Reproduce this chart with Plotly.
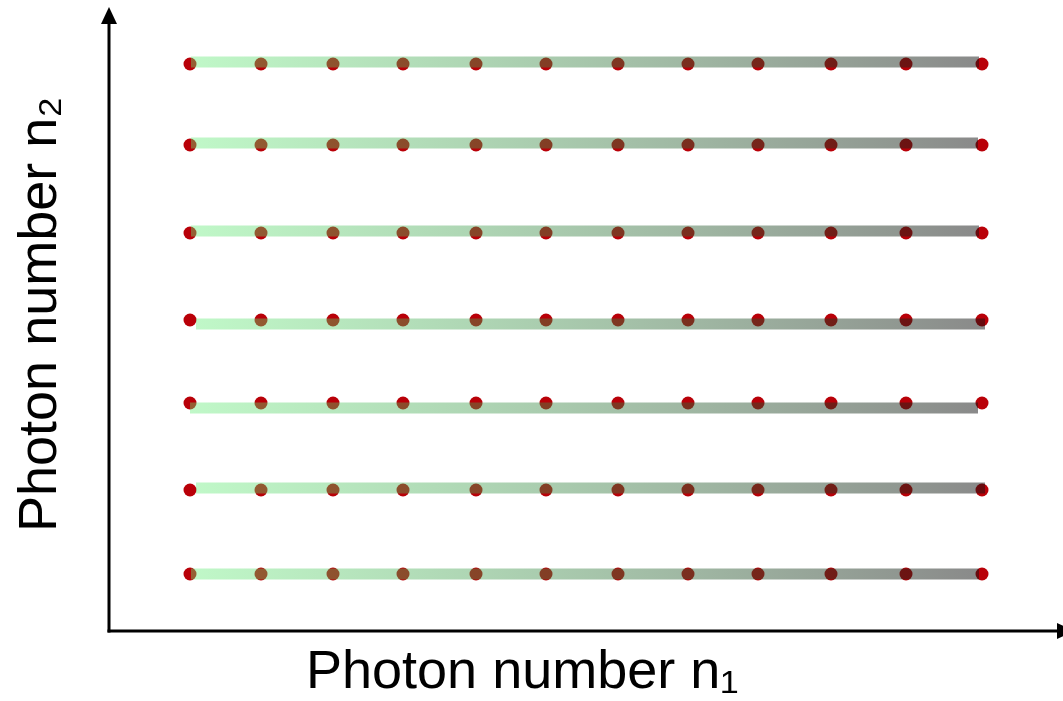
import plotly.graph_objects as go

# ---- data (pixel-like units) ----
n1_positions = [190, 261, 333, 403, 476, 546, 618, 688, 758, 831, 906, 982]
n2_rows = [64, 145, 233, 320, 403, 490, 574]          # dot rows
bar_center = [62, 143, 231, 324, 408, 488, 574]      # bar centre per row
bar_start = [191, 191, 191, 196, 190, 196, 191]
bar_end = [979, 978, 979, 985, 978, 985, 979]

x_label = "Photon number n\u2081"
y_label = "Photon number n\u2082"

W, H = 1063, 701
BAR_HALF = 5.5
DOT_COLOR = "#b90008"
GRAD = [[0, "rgba(97,237,117,0.40)"], [1, "rgba(20,20,20,0.50)"]]

fig = go.Figure()

# dots (drawn first, bars overlay them semi-transparently)
for yr in n2_rows:
    fig.add_trace(go.Scatter(
        x=n1_positions, y=[yr] * len(n1_positions), mode="markers",
        marker=dict(size=13, color=DOT_COLOR, line=dict(width=0)),
        showlegend=False, hoverinfo="skip"))

# gradient bars
for yc, x0, x1 in zip(bar_center, bar_start, bar_end):
    fig.add_trace(go.Scatter(
        x=[x0, x1, x1, x0, x0],
        y=[yc - BAR_HALF, yc - BAR_HALF, yc + BAR_HALF, yc + BAR_HALF, yc - BAR_HALF],
        mode="none", fill="toself",
        fillgradient=dict(type="horizontal", colorscale=GRAD),
        showlegend=False, hoverinfo="skip"))

# axes arrows
AX_X, AX_Y = 109, 631
fig.add_shape(type="line", x0=AX_X, x1=AX_X, y0=AX_Y + 1.5, y1=20,
              line=dict(color="black", width=3))
fig.add_shape(type="path", path=f"M {AX_X-8},{24} L {AX_X},{7} L {AX_X+8},{24} Z",
              fillcolor="black", line=dict(color="black", width=0))
fig.add_shape(type="line", x0=AX_X - 1.5, x1=1060, y0=AX_Y, y1=AX_Y,
              line=dict(color="black", width=3))
fig.add_shape(type="path", path=f"M {1057},{AX_Y-8} L {1075},{AX_Y} L {1057},{AX_Y+8} Z",
              fillcolor="black", line=dict(color="black", width=0))

FONT = dict(family="Liberation Sans, Arial, Helvetica, sans-serif", size=54, color="black")
fig.add_annotation(x=522, y=669, text=x_label, showarrow=False, font=FONT,
                   xanchor="center", yanchor="middle", borderpad=0)
fig.add_annotation(x=37, y=315, text=y_label, showarrow=False, font=FONT,
                   textangle=-90, xanchor="center", yanchor="middle", borderpad=0)

fig.update_layout(
    width=W, height=H, margin=dict(l=0, r=0, t=0, b=0),
    paper_bgcolor="white", plot_bgcolor="white",
    xaxis=dict(range=[0, W], visible=False, fixedrange=True),
    yaxis=dict(range=[H, 0], visible=False, fixedrange=True),
)

fig.write_html("out.html")
